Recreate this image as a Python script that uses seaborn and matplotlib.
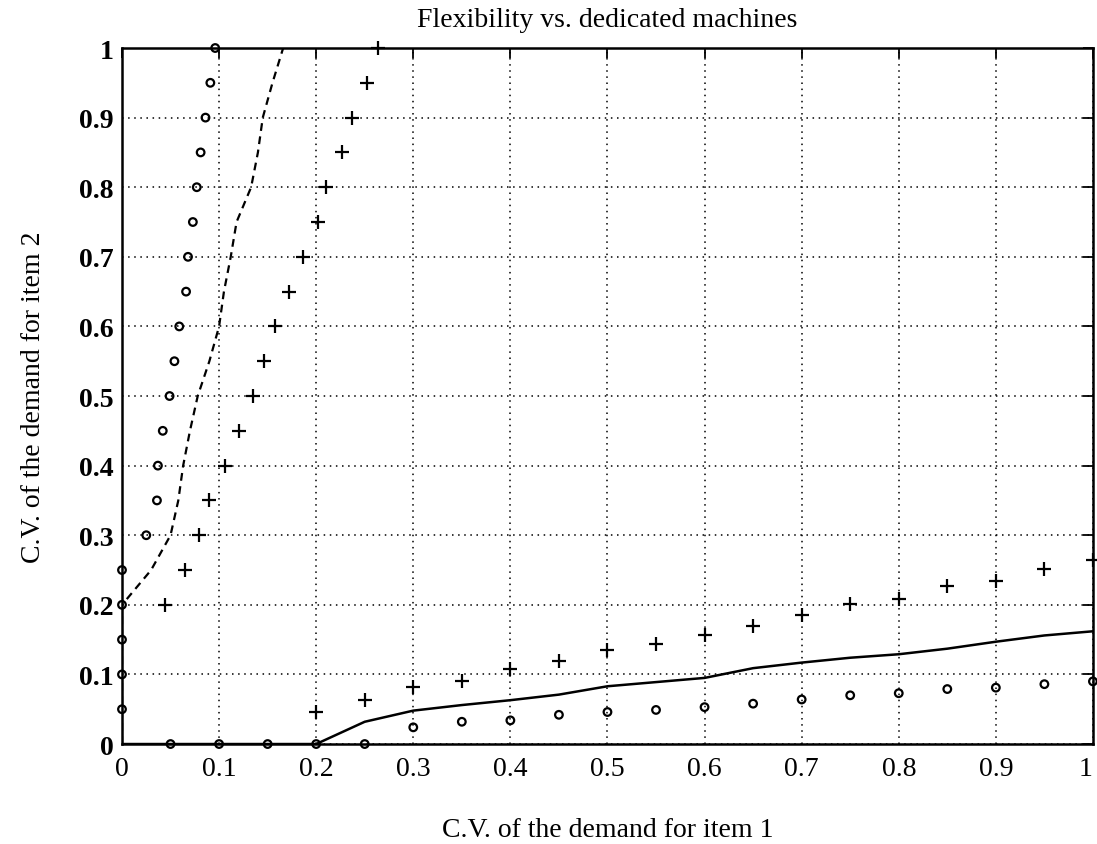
import matplotlib
matplotlib.use("Agg")
import matplotlib.pyplot as plt
import seaborn as sns
import pandas as pd
from matplotlib.ticker import FuncFormatter, MultipleLocator

# ---- data ----
circle_x = [0, 0, 0, 0, 0,
            0.025, 0.036, 0.037, 0.042, 0.049, 0.054, 0.059, 0.066, 0.068, 0.073,
            0.077, 0.081, 0.086, 0.091, 0.096,
            0.05, 0.10, 0.15, 0.20, 0.25,
            0.30, 0.35, 0.40, 0.45, 0.50, 0.55, 0.60, 0.65, 0.70, 0.75,
            0.80, 0.85, 0.90, 0.95, 1.00]
circle_y = [0.05, 0.10, 0.15, 0.20, 0.25,
            0.30, 0.35, 0.40, 0.45, 0.50, 0.55, 0.60, 0.65, 0.70, 0.75,
            0.80, 0.85, 0.90, 0.95, 1.00,
            0, 0, 0, 0, 0,
            0.024, 0.032, 0.034, 0.042, 0.046, 0.049, 0.053, 0.058, 0.064, 0.070,
            0.073, 0.079, 0.081, 0.086, 0.090]

plus_x = [0.044, 0.065, 0.079, 0.090, 0.106, 0.120, 0.135, 0.146, 0.158, 0.172,
          0.186, 0.202, 0.210, 0.227, 0.237, 0.252, 0.264,
          0.20, 0.25, 0.30, 0.35, 0.40, 0.45, 0.50, 0.55, 0.60, 0.65,
          0.70, 0.75, 0.80, 0.85, 0.90, 0.95, 1.00]
plus_y = [0.20, 0.25, 0.30, 0.35, 0.40, 0.45, 0.50, 0.55, 0.60, 0.65,
          0.70, 0.75, 0.80, 0.85, 0.90, 0.95, 1.00,
          0.046, 0.063, 0.082, 0.090, 0.108, 0.119, 0.135, 0.144, 0.156, 0.169,
          0.185, 0.201, 0.209, 0.227, 0.234, 0.252, 0.264]

solid_x = [0, 0.20, 0.25, 0.30, 0.35, 0.40, 0.45, 0.50, 0.55, 0.60, 0.65,
           0.70, 0.75, 0.80, 0.85, 0.90, 0.95, 1.00]
solid_y = [0, 0, 0.032, 0.048, 0.056, 0.063, 0.071, 0.083, 0.089, 0.095, 0.109,
           0.117, 0.124, 0.129, 0.137, 0.147, 0.156, 0.162]

dashed_x = [0, 0, 0.030, 0.050, 0.058, 0.063, 0.070, 0.078, 0.090, 0.100, 0.105,
            0.112, 0.118, 0.133, 0.140, 0.145, 0.155, 0.166]
dashed_y = [0, 0.20, 0.25, 0.30, 0.35, 0.40, 0.45, 0.50, 0.55, 0.60, 0.65,
            0.70, 0.75, 0.80, 0.85, 0.90, 0.95, 1.00]

ticks = [0, 0.1, 0.2, 0.3, 0.4, 0.5, 0.6, 0.7, 0.8, 0.9, 1.0]
tick_labels = ["0", "0.1", "0.2", "0.3", "0.4", "0.5", "0.6", "0.7", "0.8", "0.9", "1"]

title = "Flexibility vs. dedicated machines"
xlabel = "C.V. of the demand for item 1"
ylabel = "C.V. of the demand for item 2"

# ---- plot ----
sns.set_theme(style="white")
plt.rcParams['font.family'] = ['Liberation Serif', 'DejaVu Serif']
plt.rcParams['text.color'] = 'black'
plt.rcParams['axes.labelcolor'] = 'black'
plt.rcParams['xtick.color'] = 'black'
plt.rcParams['ytick.color'] = 'black'

fig = plt.figure(figsize=(10.97, 8.45), dpi=100)
ax = fig.add_axes([0.1112, 0.1183, 0.8851, 0.8237])

df_solid = pd.DataFrame({"x": solid_x, "y": solid_y})
df_dash = pd.DataFrame({"x": dashed_x, "y": dashed_y})
df_c = pd.DataFrame({"x": circle_x, "y": circle_y})
df_p = pd.DataFrame({"x": plus_x, "y": plus_y})

sns.lineplot(data=df_solid, x="x", y="y", sort=False, estimator=None,
             color="black", lw=1.8, ax=ax, zorder=3)
sns.lineplot(data=df_dash, x="x", y="y", sort=False, estimator=None,
             color="black", lw=1.6, ax=ax, zorder=3)
ax.lines[-1].set_linestyle((0, (3.5, 2.5)))
sns.scatterplot(data=df_c, x="x", y="y", marker="o", s=30,
                facecolors="none", edgecolors="black", linewidths=1.6,
                ax=ax, zorder=4, clip_on=False)
sns.scatterplot(data=df_p, x="x", y="y", marker="+", s=100,
                color="black", linewidths=1.6, ax=ax, zorder=4, clip_on=False)

ax.set_xlim(0, 1)
ax.set_ylim(0, 1)
ax.set_xticks(ticks, tick_labels)
ax.set_yticks(ticks, tick_labels)

ax.grid(True, color="black", linestyle=(0, (1, 3)), linewidth=1.1)
for s in ax.spines.values():
    s.set_visible(True)
    s.set_color("black")
    s.set_linewidth(1.8)

ax.tick_params(direction="in", length=7, width=1.3, top=True, right=True,
               labelsize=20, colors="black")
ax.tick_params(axis="x", pad=8.5)
ax.tick_params(axis="y", pad=6)
for lab in ax.get_yticklabels():
    lab.set_fontweight("bold")
for lab in ax.get_xticklabels():
    if lab.get_text() == "1":
        lab.set_horizontalalignment("right")

ax.set_title(title, fontsize=20, pad=16)
ax.set_xlabel(xlabel, fontsize=20, labelpad=26)
ax.set_ylabel(ylabel, fontsize=20, labelpad=24)

fig.savefig("out.png", dpi=100)
